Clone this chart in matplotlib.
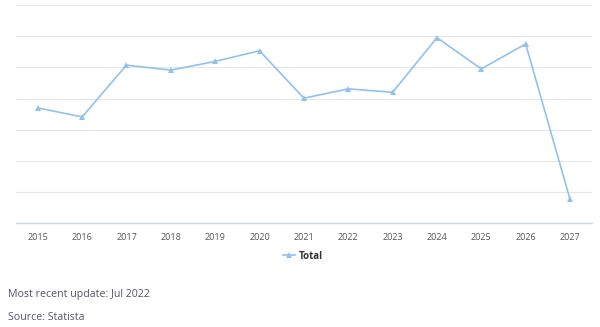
import matplotlib.pyplot as plt

# data (no y scale shown, grid units)
years = ['2015', '2016', '2017', '2018', '2019', '2020', '2021',
         '2022', '2023', '2024', '2025', '2026', '2027']
total = [3.70, 3.41, 5.07, 4.91, 5.19, 5.53, 4.01,
         4.31, 4.20, 5.95, 4.95, 5.75, 0.77]

plt.rcParams['font.family'] = ['Open Sans', 'DejaVu Sans']

fig = plt.figure(figsize=(6, 3.27), dpi=100)
ax = fig.add_axes([0.026, 0.317, 0.961, 0.668])

x = list(range(len(years)))
ax.plot(x, total, color='#92c1e9', lw=1.2, marker='^', ms=4,
        markeredgewidth=0, label='Total')

ax.set_xlim(-0.5, len(years) - 0.5)
ax.set_ylim(0, 7)
ax.set_yticks(range(0, 8))
ax.set_yticklabels([])
ax.tick_params(axis='y', length=0)
ax.grid(axis='y', color='#e6e6e6', lw=0.8)
ax.set_axisbelow(True)

ax.set_xticks(x)
ax.set_xticklabels(years, fontsize=6.5, color='#555555')
ax.tick_params(axis='x', length=0, pad=7)

for s in ['top', 'right', 'left']:
    ax.spines[s].set_visible(False)
ax.spines['bottom'].set_color('#ccd6eb')
ax.spines['bottom'].set_linewidth(1)

leg = fig.legend(loc='center', bbox_to_anchor=(0.505, 0.217), frameon=False,
                 fontsize=7, handlelength=1.2, handletextpad=0.4)
for t in leg.get_texts():
    t.set_fontweight('bold')
    t.set_color('#333333')

fig.text(0.013, 0.092, 'Most recent update: Jul 2022', fontsize=7.7, color='#555566')
fig.text(0.013, 0.022, 'Source: Statista', fontsize=7.7, color='#555566')

fig.savefig('out.png', dpi=100)
